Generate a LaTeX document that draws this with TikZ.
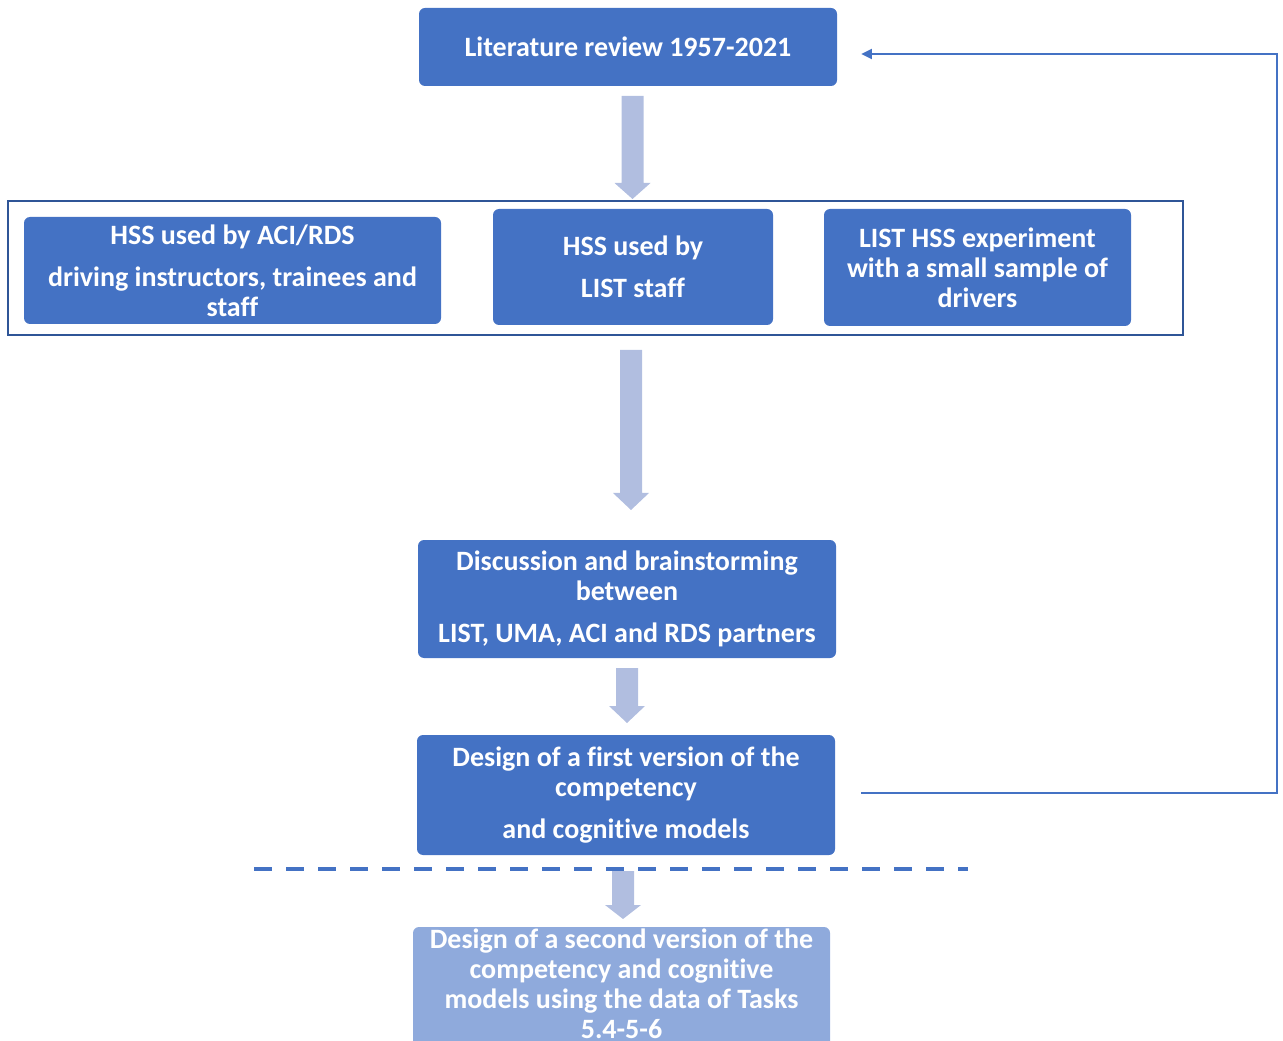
\documentclass[tikz,border=0pt]{standalone}
\usepackage{fontspec}
\setmainfont{Carlito}[Ligatures=NoCommon]
\usetikzlibrary{arrows.meta}
\definecolor{boxblue}{HTML}{4472C4}
\definecolor{paleblue}{HTML}{8FAADC}
\definecolor{arrowblue}{HTML}{B1BEE0}
\definecolor{frameblue}{HTML}{2F5597}
% wide block arrow pointing down: centre x, top, start of head, tip
\newcommand\blockdown[4]{%
  \fill[arrowblue] ({#1-11},#2) -- ({#1+11},#2) -- ({#1+11},#3) -- ({#1+18},#3)
    -- (#1,#4) -- ({#1-18},#3) -- ({#1-11},#3) -- cycle;}
\begin{document}
\begin{tikzpicture}[x=0.75pt,y=-0.75pt,
  stage/.style={fill=boxblue, rounded corners=4.5pt, text=white, align=center,
    font=\bfseries\fontsize{21}{22.5}\selectfont, inner sep=0pt},
  later/.style={stage, fill=paleblue},
  bodytext/.style={text=white, align=center, inner sep=0pt,
    font=\bfseries\fontsize{21}{22.5}\selectfont},
  feedback/.style={draw=boxblue, line width=1.5pt, -{Triangle[length=8pt,width=7.5pt]}},
  cut/.style={draw=boxblue, line width=3pt, dash pattern=on 13.5pt off 10.5pt}]
\useasboundingbox (0,0) rectangle (1283,1041);

% top-level input
\node[stage, minimum width=313.5pt, minimum height=58.5pt] (lit) at (628,47)
  {Literature review 1957-2021};

% frame grouping the three HSS sources
\draw[frameblue, line width=1.5pt] (8,201) rectangle (1183,335);
\node[stage, minimum width=312.75pt, minimum height=80.25pt] (aci) at (232.5,270.5)
  {HSS used by ACI/RDS\\[9pt]driving instructors, trainees and\\staff};
\node[stage, minimum width=210pt, minimum height=87pt] (liststaff) at (633,267)
  {HSS used by\\[9pt]LIST staff};
\node[stage, minimum width=230.25pt, minimum height=87.75pt] (experiment) at (977.5,267.5)
  {LIST HSS experiment\\with a small sample of\\drivers};

\node[stage, minimum width=313.5pt, minimum height=88.5pt] (discussion) at (627,599)
  {Discussion and brainstorming\\between\\[9pt]LIST, UMA, ACI and RDS partners};

\node[stage, minimum width=313.5pt, minimum height=90pt] (first) at (626,795)
  {Design of a first version of the\\competency\\[9pt]and cognitive models};

% second version box runs past the lower edge
\node[later, minimum width=312.75pt, minimum height=93pt] (second) at (621.5,989) {};
\node[bodytext] (secondtext) at (621.5,984)
  {Design of a second version of the\\competency and cognitive\\models using the data of Tasks\\5.4-5-6};

% block arrows between stages
\blockdown{632.5}{96}{183}{199}
\blockdown{631}{350}{493}{510}
\blockdown{627}{668}{706}{723}
\blockdown{623}{871}{905}{919}

% dashed separator
\coordinate (cutL) at (254,869);
\coordinate (cutR) at (968,869);
\draw[cut] (cutL) -- (cutR);

% feedback loop from the first version back to the literature review
\coordinate (fbstart) at ([xshift=19.5pt]first.east |- 0,793);
\coordinate (fbend) at ([xshift=18pt]lit.east |- 0,54);
\draw[feedback] (fbstart) -- (1277,793) -- (1277,54) -- (fbend);
\end{tikzpicture}
\end{document}
